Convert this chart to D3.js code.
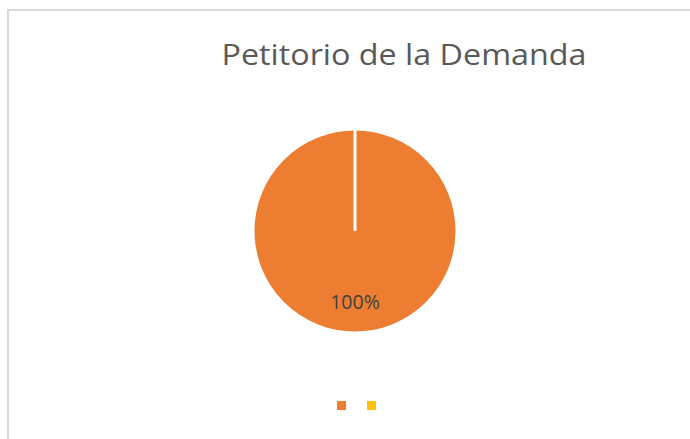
<!DOCTYPE html>
<html><head><meta charset="utf-8">
<script src="https://cdn.jsdelivr.net/npm/d3@7"></script>
<style>body{margin:0;background:#fff;}svg{display:block;}</style>
</head><body>
<svg id="c" width="690" height="439"></svg>
<script>
const title = "Petitorio de la Demanda";
const categories = ["", ""];
const values = [1, 0];
const colors = ["#ED7D31", "#FFC000"];
const labels = ["100%", ""];

const svg = d3.select("#c");
// chart frame
svg.append("rect").attr("x", 8).attr("y", 10).attr("width", 700).attr("height", 450)
  .attr("fill", "#fff").attr("stroke", "#d9d9d9").attr("stroke-width", 2);

svg.append("text").attr("x", 404).attr("y", 65).attr("text-anchor", "middle")
  .attr("font-family", "'Open Sans', sans-serif").attr("font-size", 30)
  .attr("textLength", 365).attr("lengthAdjust", "spacingAndGlyphs")
  .attr("fill", "#595959").text(title);

const cx = 355, cy = 231, r = 102;
const pie = d3.pie().sort(null).value(d => d)(values);
const arc = d3.arc().innerRadius(0).outerRadius(r);
const g = svg.append("g").attr("transform", `translate(${cx},${cy})`);
g.selectAll("path").data(pie).join("path")
  .attr("d", arc).attr("fill", (d, i) => colors[i])
  .attr("stroke", "#fff").attr("stroke-width", 3);

g.selectAll("text.lbl").data(pie.filter((d, i) => labels[i])).join("text")
  .attr("class", "lbl")
  .attr("x", 0).attr("y", 78)
  .attr("text-anchor", "middle")
  .attr("font-family", "'Open Sans', sans-serif").attr("font-size", 19.5)
  .attr("fill", "#404040").text((d) => labels[d.index]);

// legend
const lx = d3.scalePoint().domain(d3.range(categories.length)).range([337, 367]);
const leg = svg.append("g");
leg.selectAll("rect").data(categories).join("rect")
  .attr("x", (d, i) => lx(i)).attr("y", 401).attr("width", 9).attr("height", 9)
  .attr("fill", (d, i) => colors[i]);
leg.selectAll("text").data(categories).join("text")
  .attr("x", (d, i) => lx(i) + 12).attr("y", 409)
  .attr("font-family", "'Open Sans', sans-serif").attr("font-size", 12)
  .attr("fill", "#595959").text(d => d);
</script>
</body></html>
